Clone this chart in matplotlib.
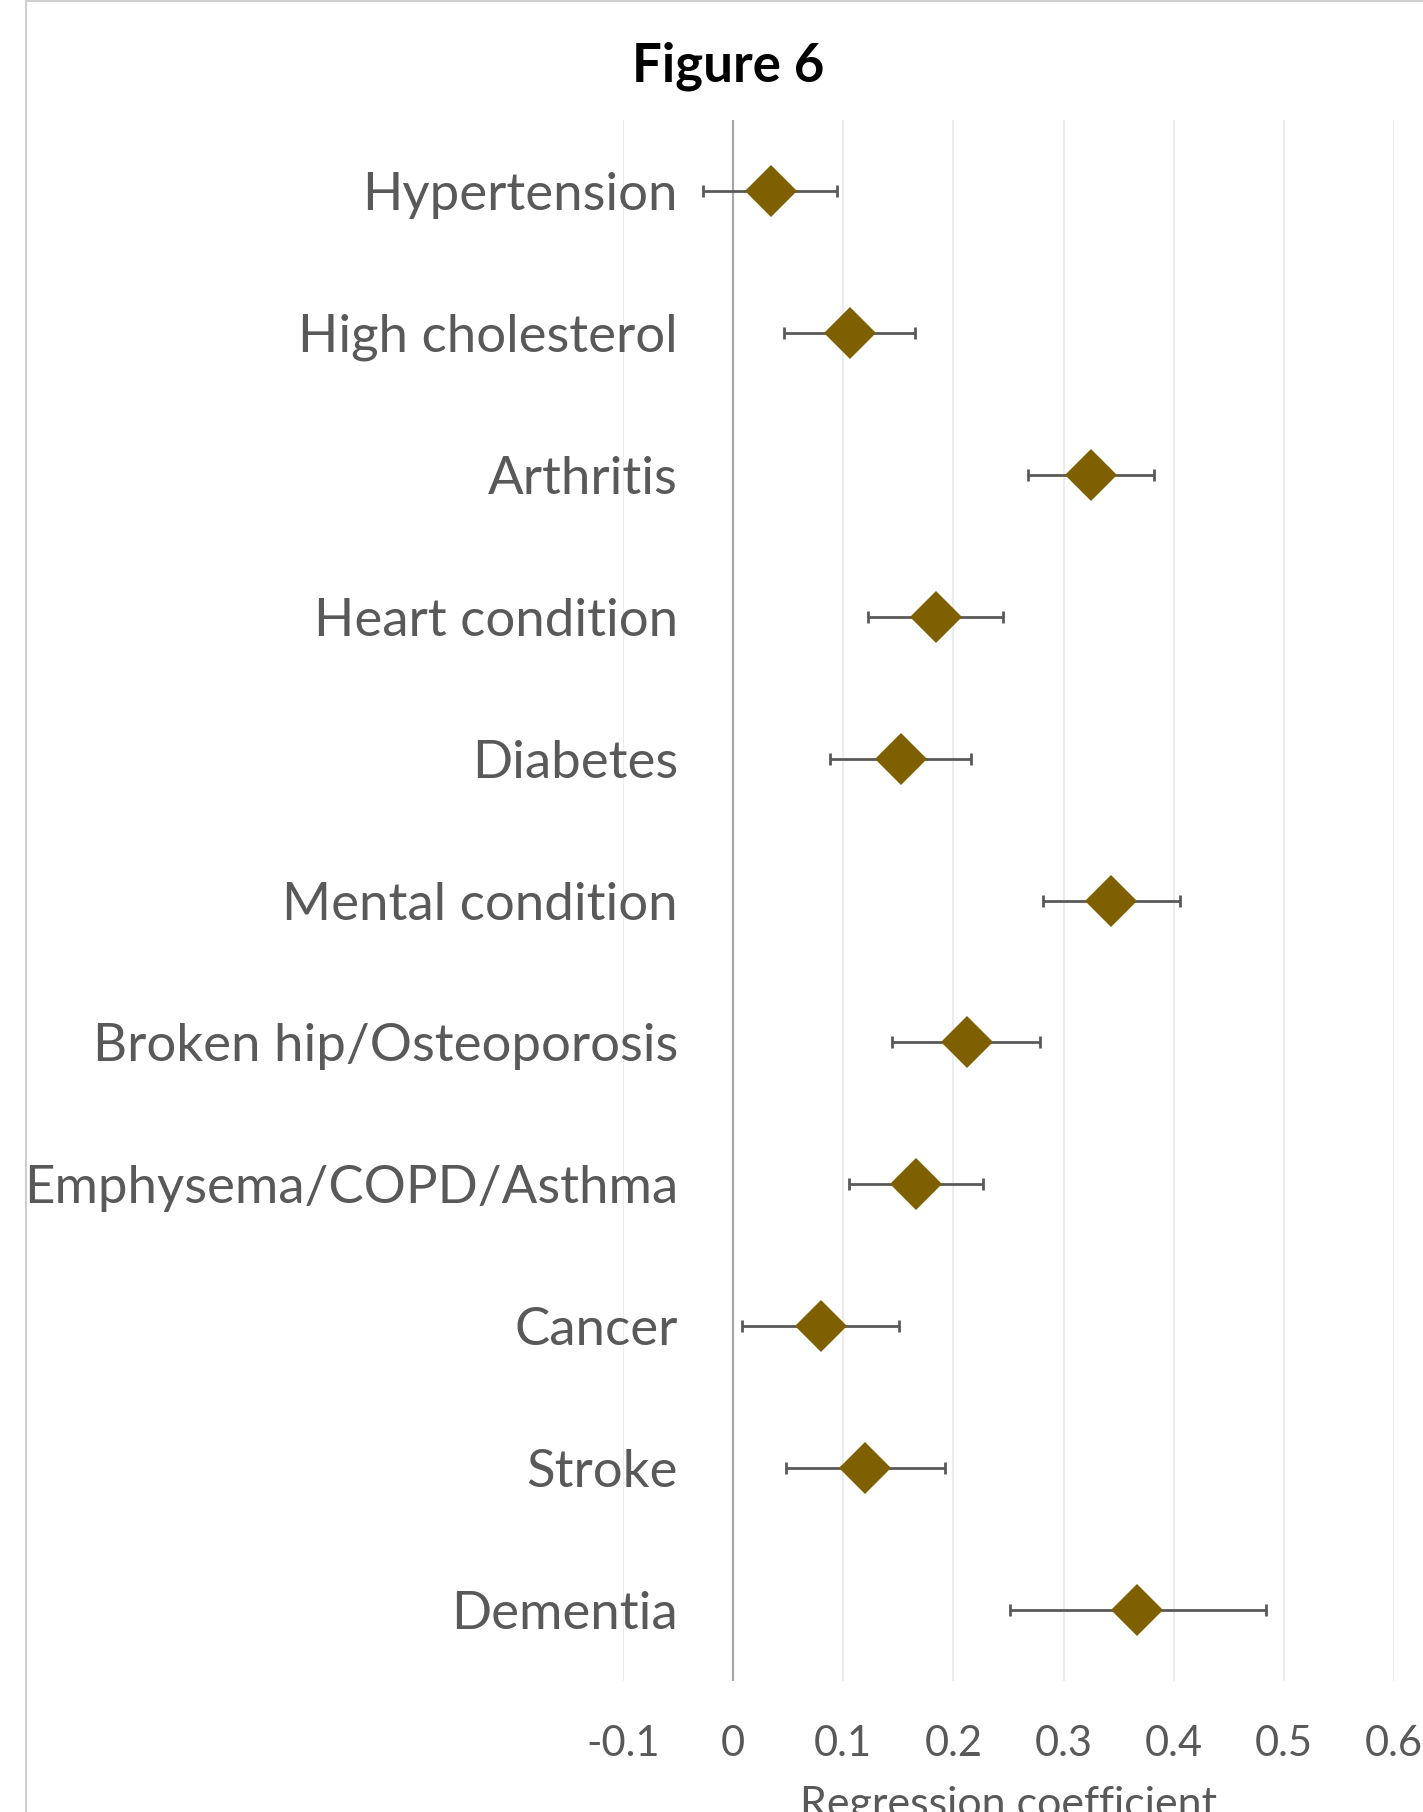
import matplotlib
matplotlib.use("Agg")
import matplotlib.pyplot as plt
from matplotlib.patches import Rectangle

categories = ["Hypertension", "High cholesterol", "Arthritis", "Heart condition",
              "Diabetes", "Mental condition", "Broken hip/Osteoporosis",
              "Emphysema/COPD/Asthma", "Cancer", "Stroke", "Dementia"]
coef = [0.034, 0.106, 0.325, 0.184, 0.152, 0.343, 0.212, 0.166, 0.080, 0.120, 0.367]
lower = [-0.027, 0.046, 0.268, 0.122, 0.088, 0.281, 0.144, 0.105, 0.008, 0.048, 0.251]
upper = [0.094, 0.165, 0.382, 0.245, 0.216, 0.406, 0.279, 0.227, 0.151, 0.192, 0.484]
xticks = [-0.1, 0, 0.1, 0.2, 0.3, 0.4, 0.5, 0.6]
xticklabels = ["-0.1", "0", "0.1", "0.2", "0.3", "0.4", "0.5", "0.6"]

plt.rcParams['font.family'] = ['Lato', 'DejaVu Sans']

W, H = 1423, 1812
fig = plt.figure(figsize=(W / 100, H / 100), dpi=100)
fig.patches.append(Rectangle((26 / W, -0.1), 1.2, 1.1 - 1 / H, transform=fig.transFigure,
                             fill=False, edgecolor="#d0d0d0", linewidth=1.5))

ax = fig.add_axes([623 / W, 1 - 1681 / H, (1394 - 623) / W, (1681 - 120) / H])
ypos = list(range(len(categories)))
xerr = [[c - l for c, l in zip(coef, lower)], [u - c for c, u in zip(coef, upper)]]

ax.set_xlim(-0.1, 0.6)
ax.set_ylim(len(categories) - 0.5, -0.5)
ax.set_xticks(xticks)
ax.set_xticklabels(xticklabels)
ax.grid(axis="x", color="#ececec", linewidth=1.5, zorder=0)
ax.axvline(0, color="#a6a6a6", linewidth=1.5, zorder=1)
ax.set_axisbelow(True)

ax.errorbar(coef, ypos, xerr=xerr, fmt="none", ecolor="#595959", elinewidth=2,
            capsize=4.5, capthick=2, zorder=2)
ax.plot(coef, ypos, linestyle="none", marker="D", markersize=26,
        color="#7f6000", markeredgewidth=0, zorder=3)

ax.set_yticks(ypos)
ax.set_yticklabels(categories, fontsize=38, color="#595959")
ax.tick_params(axis="y", length=0, pad=-39.5)
ax.tick_params(axis="x", length=0, pad=32, labelsize=30, labelcolor="#595959")
for s in ax.spines.values():
    s.set_visible(False)

ax.set_xlabel("Regression coefficient", fontsize=31, color="#595959", labelpad=16)

fig.text(728 / W, 1 - 66 / H, "Figure 6", ha="center", va="center",
         fontsize=38, fontweight="bold", color="black")

fig.savefig("out.png", dpi=100)
